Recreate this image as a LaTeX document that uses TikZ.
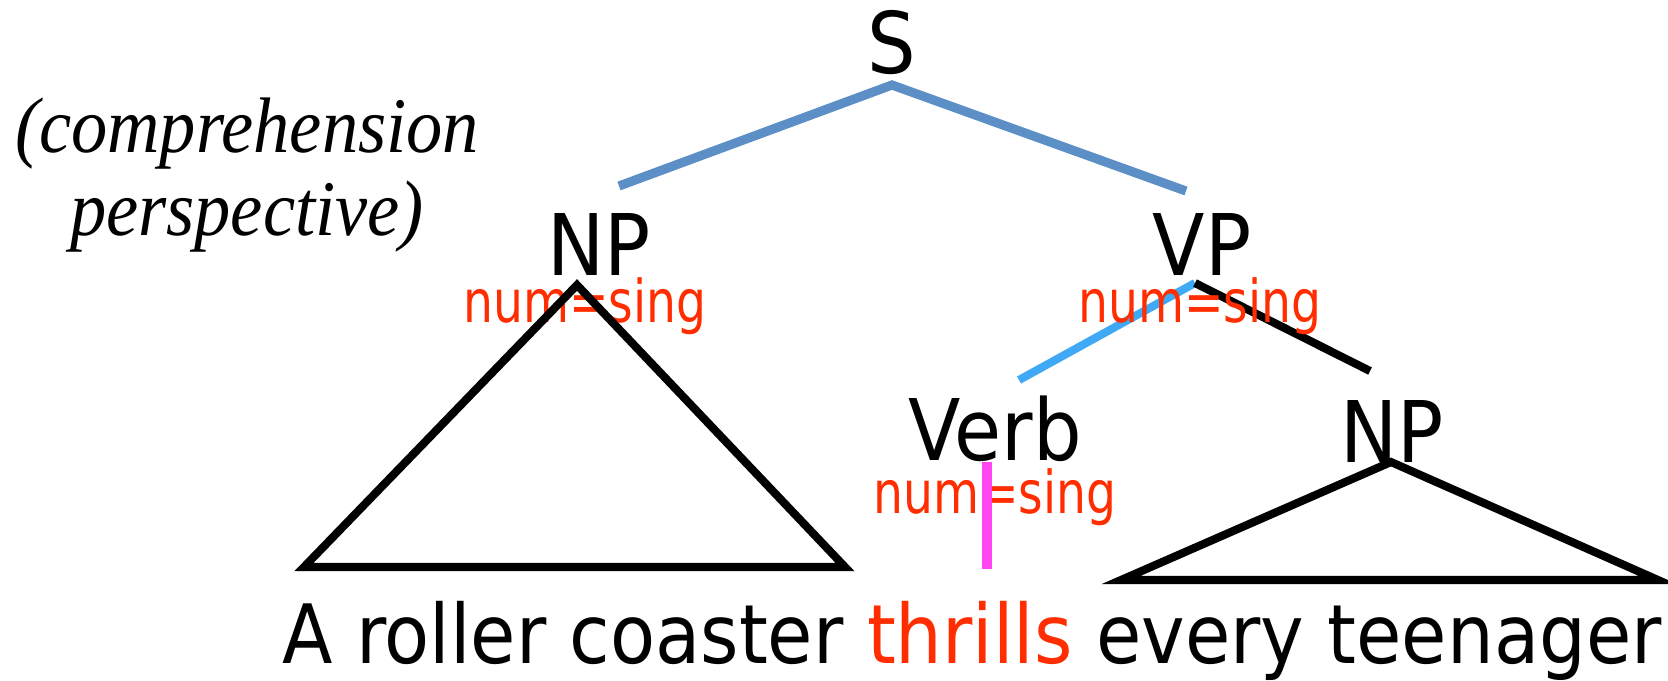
\documentclass[tikz,border=0pt]{standalone}
\usepackage{fontspec}
\usepackage{xcolor}
\usepackage{tikz}
\newfontfamily\treefont[FakeStretch=0.9]{DejaVu Sans}
\newfontfamily\featfont[FakeStretch=0.8]{DejaVu Sans}
\newfontfamily\notefont[FakeStretch=0.92]{Liberation Serif}
\definecolor{featred}{HTML}{FF2D00}
\definecolor{steel}{HTML}{5B8FC6}
\definecolor{sky}{HTML}{3FA9F5}
\definecolor{pinkline}{HTML}{FF44F2}
\tikzset{
  cat/.style={font=\treefont\fontsize{24.2}{29}\selectfont,inner sep=0pt,anchor=base},
  words/.style={font=\treefont\fontsize{23.3}{28}\selectfont,inner sep=0pt,anchor=base},
  feat/.style={font=\featfont\fontsize{16.8}{20}\selectfont,text=featred,inner sep=0pt,anchor=base},
  note/.style={font=\notefont\itshape\fontsize{22.4}{27}\selectfont,inner sep=0pt,anchor=base},
  branch/.style={line width=2.6pt,color=steel},
  tri/.style={draw=black,line width=2.3pt},
  twig/.style={line width=2.3pt,color=#1},
}

\begin{document}
\begin{tikzpicture}[x=1cm,y=1cm]
    \useasboundingbox (0,0) rectangle (16.68,6.80);
    \coordinate (s-top) at (8.92,5.95);
    \coordinate (s-left) at (6.19,4.94);
    \coordinate (s-right) at (11.86,4.89);
    \coordinate (np1-top) at (5.77,3.95);
    \coordinate (np1-bl) at (3.04,1.13);
    \coordinate (np1-br) at (8.45,1.13);
    \coordinate (vp-top) at (11.95,3.97);
    \coordinate (vp-left) at (10.19,3.00);
    \coordinate (vp-right) at (13.70,3.09);
    \coordinate (verb-top) at (9.87,2.18);
    \coordinate (verb-bot) at (9.87,1.11);
    \coordinate (np2-top) at (13.91,2.18);
    \coordinate (np2-bl) at (11.21,1.00);
    \coordinate (np2-br) at (16.58,1.00);
    \node[note] (persp1) at (2.47,5.28) {(comprehension};
    \node[note] (persp2) at (2.47,4.45) {perspective)};
    \node[cat] (s) at (8.92,6.07) {S};
    \node[cat] (np1) at (5.99,4.05) {NP};
    \node[cat] (vp) at (12.02,4.05) {VP};
    \node[cat] (verb) at (9.95,2.20) {Verb};
    \node[cat] (np2) at (13.92,2.18) {NP};
    \node[feat] (np1-num) at (5.85,3.58) {num=sing};
    \node[feat] (verb-num) at (9.95,1.67) {num=sing};
    \node[words] (sent) at (9.72,0.17) {A roller coaster \textcolor{featred}{thrills} every teenager};
    \draw[branch] (s-left) -- (s-top) -- (s-right);
    \draw[tri] (np1-top) -- (np1-bl) -- (np1-br) -- cycle;
    \draw[twig=sky] (vp-top) -- (vp-left);
    \draw[twig=black] (vp-top) -- (vp-right);
    \draw[twig=pinkline,line width=2.6pt] (verb-top) -- (verb-bot);
    \draw[tri] (np2-top) -- (np2-bl) -- (np2-br) -- cycle;
    \node[feat] (vp-num) at (12.00,3.58) {num=sing};
  \end{tikzpicture}
\end{document}
